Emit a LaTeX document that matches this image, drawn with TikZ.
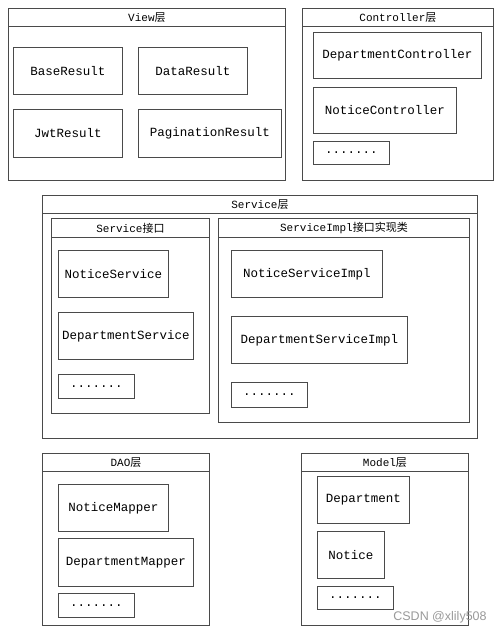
\documentclass[tikz,border=0pt]{standalone}
\usepackage{fontspec}
\newfontfamily\monofont{Liberation Mono}
\newfontfamily\cjk{Noto Sans CJK SC}
\newfontfamily\markfont{Liberation Sans}
\definecolor{boxline}{HTML}{4A4A4A}
\begin{document}
\begin{tikzpicture}[x=1pt,y=-1pt,
    every node/.style={inner sep=0pt, anchor=north west, draw=boxline, line width=0.9pt},
    bar/.style={minimum height=18pt, font=\monofont\fontsize{11}{13}\selectfont},
    cls/.style={font=\monofont\fontsize{12.5}{15}\selectfont}]
    \useasboundingbox (0,0) rectangle (503,634);
    % View layer
    \node[minimum width=277pt, minimum height=172pt] (view) at (8,8) {};
    \node[bar, minimum width=277pt] (viewbar) at (view.north west) {View{\cjk 层}};
    \node[cls, minimum width=109pt, minimum height=47pt] (baseresult) at (13,47) {BaseResult};
    \node[cls, minimum width=109pt, minimum height=47pt] (dataresult) at (138,47) {DataResult};
    \node[cls, minimum width=109pt, minimum height=48pt] (jwtresult) at (13,109) {JwtResult};
    \node[cls, minimum width=143pt, minimum height=48pt] (pageresult) at (138,109) {PaginationResult};
    % Controller layer
    \node[minimum width=191pt, minimum height=172pt] (ctrl) at (302,8) {};
    \node[bar, minimum width=191pt] (ctrlbar) at (ctrl.north west) {Controller{\cjk 层}};
    \node[cls, minimum width=168pt, minimum height=46pt] (deptctrl) at (313,32) {DepartmentController};
    \node[cls, minimum width=143pt, minimum height=46pt] (noticectrl) at (313,87) {NoticeController};
    \node[cls, minimum width=76pt, minimum height=23pt] (ctrlmore) at (313,141) {.......};
    % Service layer
    \node[minimum width=435pt, minimum height=243pt] (service) at (42,195) {};
    \node[bar, minimum width=435pt] (servicebar) at (service.north west) {Service{\cjk 层}};
    \node[minimum width=158pt, minimum height=195pt] (iface) at (51,218) {};
    \node[bar, minimum width=158pt, minimum height=19pt] (ifacebar) at (iface.north west) {Service{\cjk 接口}};
    \node[cls, minimum width=110pt, minimum height=47pt] (noticesvc) at (58,250) {NoticeService};
    \node[cls, minimum width=135pt, minimum height=47pt] (deptsvc) at (58,312) {DepartmentService};
    \node[cls, minimum width=76pt, minimum height=24pt] (ifacemore) at (58,374) {.......};
    \node[minimum width=251pt, minimum height=204pt] (impl) at (218,218) {};
    \node[bar, minimum width=251pt, minimum height=19pt] (implbar) at (impl.north west) {ServiceImpl{\cjk 接口实现类}};
    \node[cls, minimum width=151pt, minimum height=47pt] (noticeimpl) at (231,250) {NoticeServiceImpl};
    \node[cls, minimum width=176pt, minimum height=47pt] (deptimpl) at (231,316) {DepartmentServiceImpl};
    \node[cls, minimum width=76pt, minimum height=25pt] (implmore) at (231,382) {.......};
    % DAO layer
    \node[minimum width=167pt, minimum height=172pt] (dao) at (42,453) {};
    \node[bar, minimum width=167pt] (daobar) at (dao.north west) {DAO{\cjk 层}};
    \node[cls, minimum width=110pt, minimum height=47pt] (noticemap) at (58,484) {NoticeMapper};
    \node[cls, minimum width=135pt, minimum height=48pt] (deptmap) at (58,538) {DepartmentMapper};
    \node[cls, minimum width=76pt, minimum height=24pt] (daomore) at (58,593) {.......};
    % Model layer
    \node[minimum width=167pt, minimum height=172pt] (model) at (301,453) {};
    \node[bar, minimum width=167pt] (modelbar) at (model.north west) {Model{\cjk 层}};
    \node[cls, minimum width=92pt, minimum height=47pt] (dept) at (317,476) {Department};
    \node[cls, minimum width=67pt, minimum height=47pt] (notice) at (317,531) {Notice};
    \node[cls, minimum width=76pt, minimum height=23pt] (modelmore) at (317,586) {.......};
    % watermark
    \node[draw=none, anchor=center, text=black!40, font=\markfont\fontsize{12.5}{14}\selectfont] (mark) at (440,617) {CSDN @xlily508};
\end{tikzpicture}
\end{document}
